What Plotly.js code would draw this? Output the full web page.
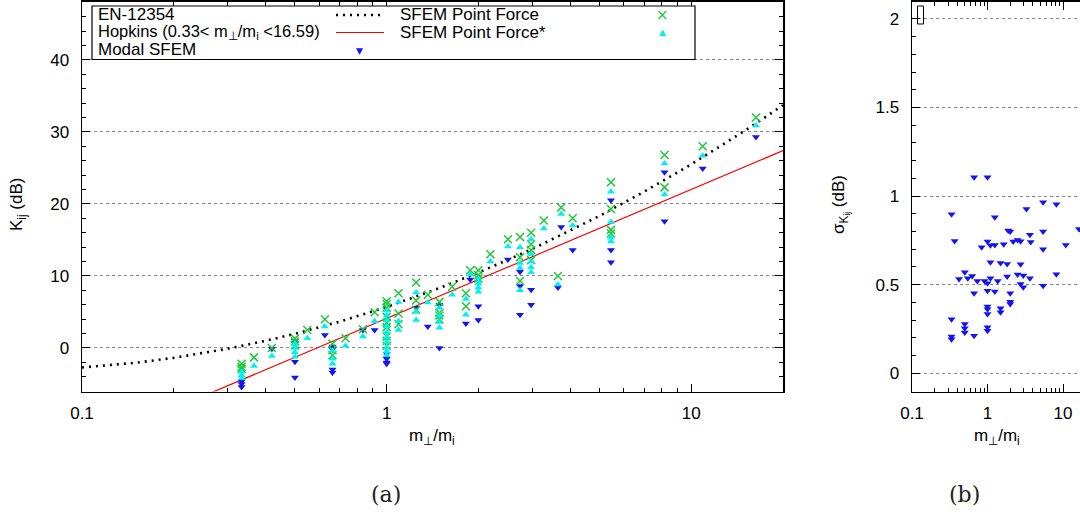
<!DOCTYPE html>
<html><head><meta charset="utf-8">
<script src="https://cdn.plot.ly/plotly-3.0.1.min.js"></script>
<style>html,body{margin:0;padding:0;background:#fff}</style>
</head><body><div id="chart" style="width:1080px;height:515px"></div>
<script>
// EN-12354 curve
const enX = [0.1,0.15,0.2,0.3,0.4,0.5,0.7,1,1.5,2,3,5,7,10,15,20];
const enY = [-2.7,-2.05,-1.37,-0.11,0.99,1.97,3.65,5.7,8.36,10.46,13.72,18.34,21.69,25.5,30.17,33.69];
// Hopkins line
const hopX = [0.1, 20];
const hopY = [-13.8, 27.4];
// SFEM Point Force
const pfX = [0.334,0.334,0.334,0.367,0.42,0.5,0.5,0.5,0.549,0.627,0.664,0.664,0.664,0.733,0.836,0.913,
  1,1,1,1,1,1,1,1,1,1.094,1.094,1.094,1.25,1.25,1.25,1.365,1.49,1.49,1.49,1.49,1.64,1.82,1.82,1.88,
  2,2,2,2.19,2.5,2.74,2.74,2.74,2.98,2.98,2.98,2.98,3.28,3.65,3.74,4.08,5.45,5.45,5.45,5.45,8.17,8.17,10.9,16.3];
const pfY = [-2.2,-2.6,-2.9,-1.3,0.0,1.3,0.9,0.4,2.5,4.0,0.6,-0.3,-1.0,1.35,2.6,4.95,
  6.5,6.1,5.6,4.3,3.5,2.9,1.6,1.0,0.3,7.6,4.8,3.3,9.1,6.6,5.3,7.4,6.4,4.9,4.5,4.0,8.5,7.6,5.8,10.8,
  10.8,10.1,9.6,13.0,15.1,15.4,12.6,9.3,16.0,14.4,13.6,12.2,17.7,10.0,19.5,18.0,23.0,19.3,16.4,15.9,26.8,22.3,28.0,32.0];
// SFEM Point Force*
const pfsX = [0.334,0.334,0.334,0.367,0.42,0.5,0.5,0.5,0.5,0.549,0.627,0.664,0.664,0.664,0.733,0.836,0.913,
  1,1,1,1,1,1,1,1,1,1,1.094,1.094,1.094,1.25,1.25,1.25,1.365,1.49,1.49,1.49,1.49,1.64,1.82,1.82,1.88,
  2,2,2,2,2.19,2.5,2.74,2.74,2.74,2.74,2.98,2.98,2.98,2.98,2.98,3.28,3.65,3.74,4.08,5.45,5.45,5.45,5.45,8.17,8.17,10.9,16.3];
const pfsY = [-3.3,-3.8,-4.2,-2.5,-1.1,0.6,0.0,-0.6,-1.2,1.35,3.0,-0.4,-1.5,-2.2,0.3,1.6,3.7,
  5.2,4.5,3.8,3.0,2.2,1.5,0.8,0.0,-0.5,-1.0,6.4,3.7,2.5,7.7,5.0,3.9,6.3,5.6,4.5,3.6,2.8,7.4,6.8,4.6,10.2,
  9.6,9.0,8.4,7.8,12.0,14.1,14.0,11.8,11.1,8.0,15.1,13.0,12.0,11.2,10.5,16.6,8.8,18.6,17.0,21.7,17.5,15.3,14.8,25.6,21.3,26.7,30.9];
// Modal SFEM
const modalX = [0.334,0.334,0.334,0.42,0.5,0.5,0.5,0.627,0.664,0.664,0.664,0.664,0.836,0.913,
  1,1,1,1,1.25,1.365,1.49,1.49,1.82,1.88,2,2,2.5,2.74,2.74,2.74,2.98,2.98,3.65,3.74,4.08,
  5.45,5.45,5.45,8.17,8.17,10.9,16.3];
const modalY = [-4.6,-5.0,-5.4,-0.1,1.0,-1.9,-4.1,1.8,0.2,-0.2,-3.0,-3.4,2.5,2.5,
  -0.8,-1.5,-2.0,-2.2,5.6,3.0,6.0,0.0,3.4,9.5,5.8,3.9,12.3,10.6,8.6,4.6,8.1,6.0,8.4,16.8,13.6,
  20.5,13.6,11.9,24.4,17.6,24.9,29.3];
// Panel (b): standard deviation of Kij
const sigX = [0.664,1.0,5.45,8.17,3.28,0.334,1.25,1.88,2.0,5.45,16.3,3.65,0.367,1.0,0.836,1.094,1.25,1.64,2.19,2.5,
  2.74,3.74,10.9,5.45,1.094,1.49,1.82,2.74,0.5,0.42,0.549,0.627,0.733,0.913,1.0,1.094,1.365,1.82,2.5,2.98,
  3.65,8.17,2.74,2.98,5.45,0.664,1.0,1.25,2.0,2.0,2.0,1.0,1.0,1.0,1.49,1.49,0.334,0.5,0.5,0.5,0.664,1.0,1.0,0.334,0.334];
const sigY = [1.106,1.106,0.965,0.954,0.927,0.897,0.880,0.805,0.800,0.800,0.814,0.782,0.747,0.744,0.711,0.722,0.724,0.728,0.744,0.752,
  0.745,0.741,0.724,0.700,0.626,0.622,0.616,0.615,0.570,0.532,0.536,0.549,0.521,0.521,0.508,0.536,0.521,0.546,0.557,0.551,
  0.536,0.559,0.504,0.485,0.494,0.451,0.466,0.461,0.451,0.404,0.391,0.376,0.361,0.335,0.367,0.344,0.305,0.278,0.254,0.230,0.212,0.260,0.240,0.207,0.192];

const W = 1080, H = 515;
const px = v => v / W;
const py = v => 1 - v / H;
const FONT = 'Liberation Sans, Arial, sans-serif';
const GREEN = '#1ec83c', CYAN = '#00f0f0', BLUE = '#1414f0';

const traces = [
  {x: enX, y: enY, mode: 'lines', line: {color: '#000', width: 2.6, dash: '2px,5px'}, xaxis: 'x', yaxis: 'y', hoverinfo: 'skip'},
  {x: hopX, y: hopY, mode: 'lines', line: {color: '#ff0000', width: 1.2}, xaxis: 'x', yaxis: 'y'},
  {x: modalX, y: modalY, mode: 'markers', marker: {symbol: 'triangle-down', size: 7, color: BLUE}, xaxis: 'x', yaxis: 'y'},
  {x: pfX, y: pfY, mode: 'markers', marker: {symbol: 'x-thin-open', size: 8, color: GREEN, line: {color: GREEN, width: 1.5}}, xaxis: 'x', yaxis: 'y'},
  {x: pfsX, y: pfsY, mode: 'markers', marker: {symbol: 'triangle-up', size: 7, color: CYAN}, xaxis: 'x', yaxis: 'y'},
  {x: sigX, y: sigY, mode: 'markers', marker: {symbol: 'triangle-down', size: 7, color: BLUE}, xaxis: 'x2', yaxis: 'y2', cliponaxis: false}
];

const minorLog = [0.2,0.3,0.4,0.5,0.6,0.7,0.8,0.9,2,3,4,5,6,7,8,9];
const axBase = {
  showline: true, linecolor: '#000', linewidth: 1.5, ticks: 'inside', ticklen: 8, tickwidth: 1, tickcolor: '#000',
  tickfont: {family: FONT, size: 17, color: '#000'}, zeroline: false
};

const layout = {
  width: W, height: H, margin: {l: 0, r: 0, t: 0, b: 0},
  paper_bgcolor: '#fff', plot_bgcolor: '#fff', showlegend: false,
  font: {family: FONT, color: '#000'},
  xaxis: Object.assign({}, axBase, {type: 'log', range: [-1, Math.log10(20)], domain: [px(82), px(783)], anchor: 'y',
    tickvals: [0.1, 1, 10], ticktext: ['0.1', '1', '10'], mirror: 'allticks', showgrid: false, ticklabelstandoff: 6,
    minor: {tickvals: minorLog, ticks: 'inside', ticklen: 4, tickcolor: '#000', showgrid: false}}),
  yaxis: Object.assign({}, axBase, {range: [-6.04, 48.1], domain: [py(391.5), py(1.5)], anchor: 'x',
    tick0: 0, dtick: 10, mirror: 'allticks', showgrid: true, gridcolor: '#888', griddash: 'dot', gridwidth: 1, ticklabelstandoff: 8,
    minor: {tick0: 0, dtick: 2, ticks: 'inside', ticklen: 4, tickcolor: '#000', showgrid: false}}),
  xaxis2: Object.assign({}, axBase, {type: 'log', range: [-1, 1.2252], domain: [px(912), 1], anchor: 'y2',
    tickvals: [0.1, 1, 10], ticktext: ['0.1', '1', '10'], mirror: 'allticks', showgrid: false, ticklabelstandoff: 6,
    minor: {tickvals: minorLog, ticks: 'inside', ticklen: 4, tickcolor: '#000', showgrid: false}}),
  yaxis2: Object.assign({}, axBase, {range: [-0.103, 2.098], domain: [py(391.5), py(1.5)], anchor: 'x2',
    tick0: 0, dtick: 0.5, mirror: false, showgrid: true, gridcolor: '#888', griddash: 'dot', gridwidth: 1, ticklabelstandoff: 8,
    minor: {tick0: 0, dtick: 0.1, ticks: 'inside', ticklen: 4, tickcolor: '#000', showgrid: false}}),
  shapes: [
    {type: 'rect', xref: 'paper', yref: 'paper', x0: px(92), x1: px(695), y0: py(59.5), y1: py(6), line: {color: '#000', width: 1.2}, fillcolor: '#fff', layer: 'above'},
    {type: 'line', xref: 'paper', yref: 'paper', x0: px(336), x1: px(384), y0: py(15), y1: py(15), line: {color: '#000', width: 2.6, dash: '2px,5px'}, layer: 'above'},
    {type: 'line', xref: 'paper', yref: 'paper', x0: px(336), x1: px(384), y0: py(32.5), y1: py(32.5), line: {color: '#ff0000', width: 1.2}, layer: 'above'},
    {type: 'rect', xref: 'paper', yref: 'paper', x0: px(917.5), x1: px(923.5), y0: py(24), y1: py(6), line: {color: '#000', width: 1}, fillcolor: 'rgba(0,0,0,0)', layer: 'above'}
  ],
  annotations: [
    {text: 'EN-12354', x: px(96), y: py(14.5), xanchor: 'left', yanchor: 'middle'},
    {text: 'Hopkins (0.33< m<sub>⊥</sub>/m<sub>i</sub> <16.59)', x: px(96), y: py(32.5), xanchor: 'left', yanchor: 'middle', font: {family: FONT, size: 16.5, color: '#000'}},
    {text: 'Modal SFEM', x: px(96), y: py(50), xanchor: 'left', yanchor: 'middle'},
    {text: 'SFEM Point Force', x: px(398), y: py(14.5), xanchor: 'left', yanchor: 'middle'},
    {text: 'SFEM Point Force*', x: px(398), y: py(32), xanchor: 'left', yanchor: 'middle'},
    {text: '▼', x: px(359), y: py(51), xanchor: 'center', yanchor: 'middle', font: {size: 9, color: BLUE, family: 'DejaVu Sans'}},
    {text: '×', x: px(662), y: py(15), xanchor: 'center', yanchor: 'middle', font: {size: 15, color: GREEN, family: 'DejaVu Sans'}},
    {text: '▲', x: px(662), y: py(32), xanchor: 'center', yanchor: 'middle', font: {size: 9, color: CYAN, family: 'DejaVu Sans'}},
    {text: 'K<sub>ij</sub> (dB)', x: px(18), y: py(205), textangle: -90, xanchor: 'center', yanchor: 'middle'},
    {text: 'm<sub>⊥</sub>/m<sub>i</sub>', x: px(432), y: py(437), xanchor: 'center', yanchor: 'middle'},
    {text: 'σ<sub>K<sub>ij</sub></sub> (dB)', x: px(840), y: py(205), textangle: -90, xanchor: 'center', yanchor: 'middle'},
    {text: 'm<sub>⊥</sub>/m<sub>i</sub>', x: px(997), y: py(437), xanchor: 'center', yanchor: 'middle'},
    {text: '(a)', x: px(386), y: py(494), xanchor: 'center', yanchor: 'middle', font: {family: 'DejaVu Serif, Liberation Serif, serif', size: 22, color: '#222'}},
    {text: '(b)', x: px(964), y: py(494), xanchor: 'center', yanchor: 'middle', font: {family: 'DejaVu Serif, Liberation Serif, serif', size: 22, color: '#222'}}
  ].map(a => Object.assign({xref: 'paper', yref: 'paper', showarrow: false, font: {family: FONT, size: 17, color: '#000'}}, a))
};

Plotly.newPlot('chart', traces, layout, {staticPlot: true, displayModeBar: false});
</script>
</body></html>
